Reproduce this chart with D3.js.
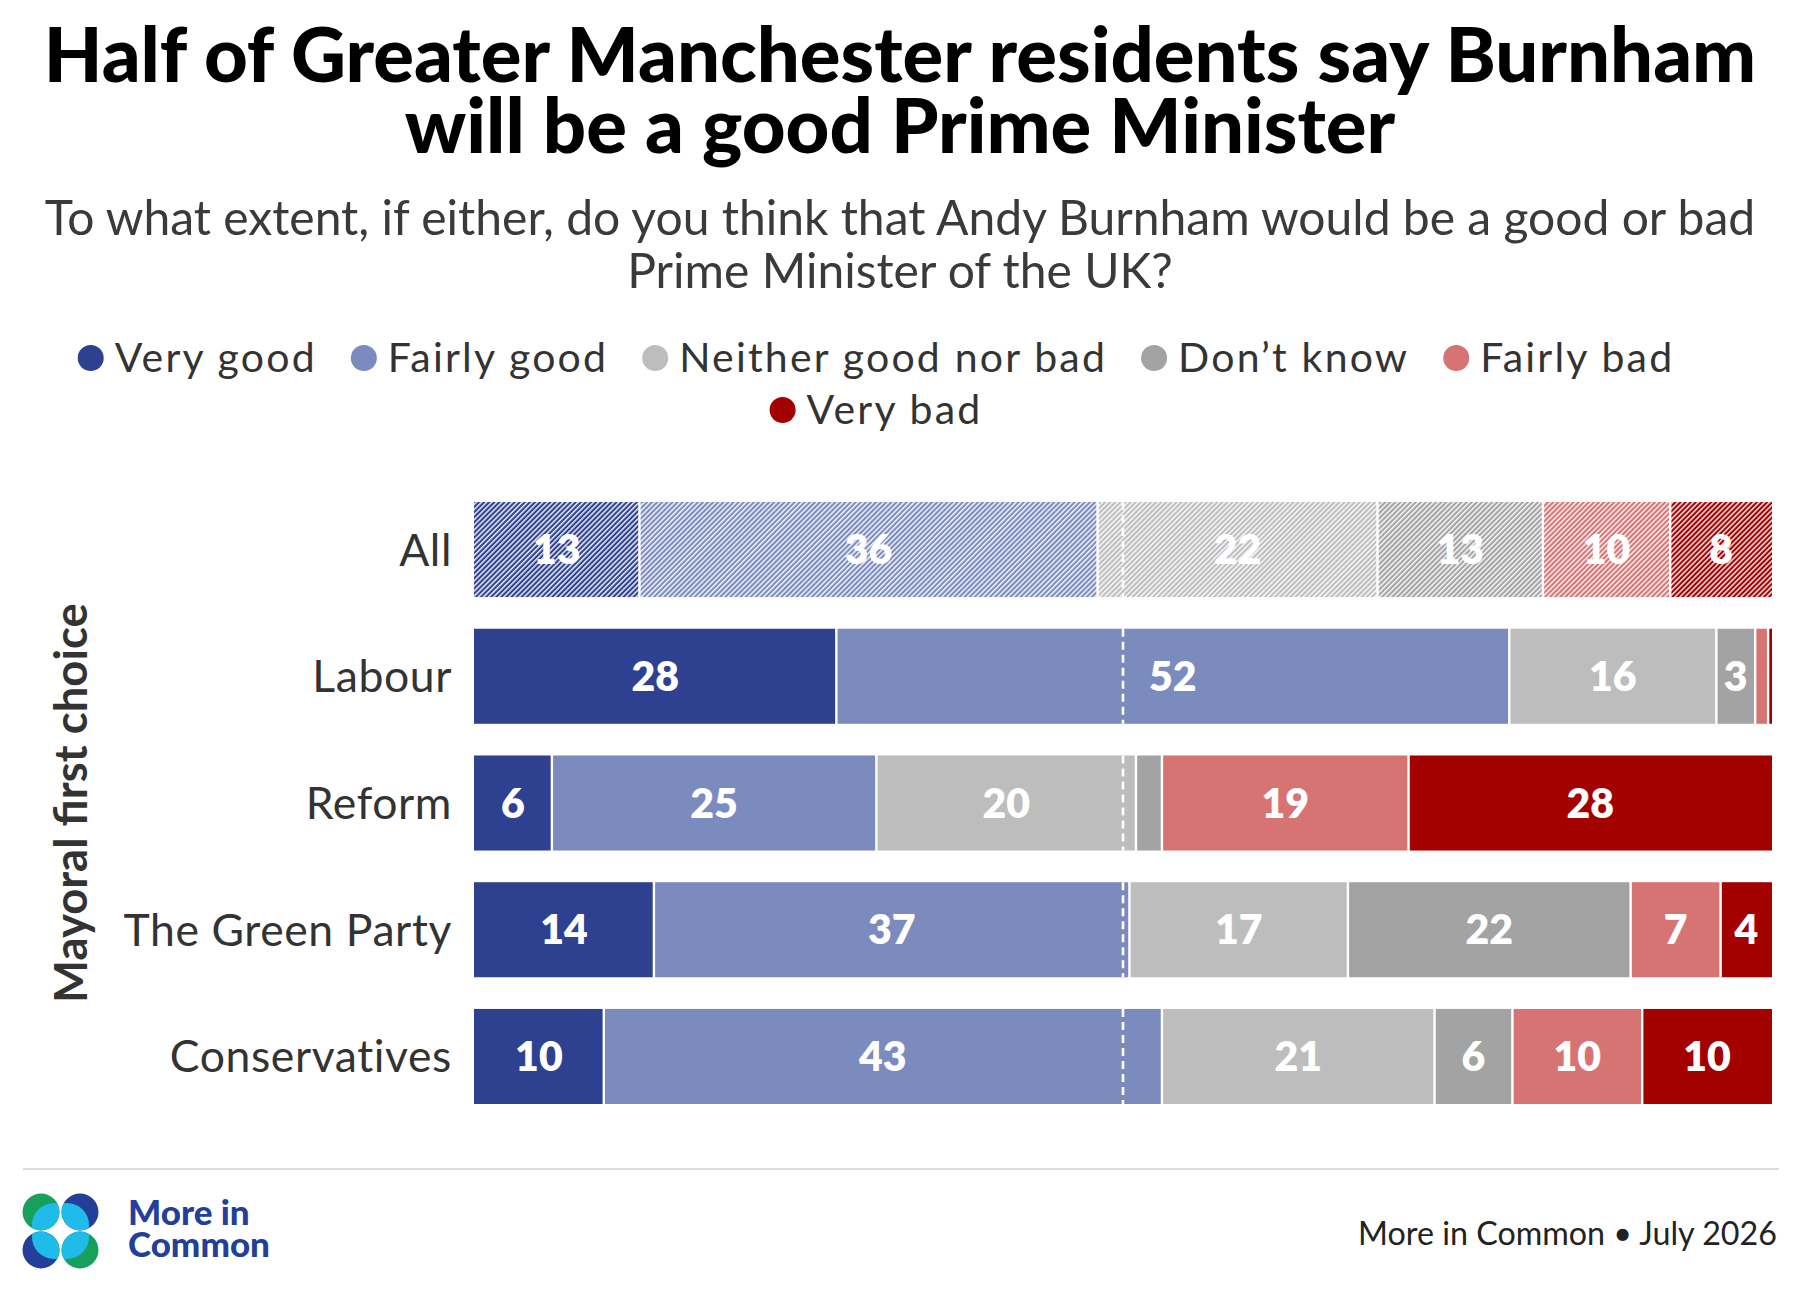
<!DOCTYPE html>
<html>
<head>
<meta charset="utf-8">
<script src="https://cdn.jsdelivr.net/npm/d3@7.9.0/dist/d3.min.js"></script>
<style>
  body { margin: 0; background: #fff; }
  svg { display: block; font-family: Lato, 'Noto Sans', sans-serif; }
</style>
</head>
<body>
<svg id="chart" width="1800" height="1300"></svg>
<script>
// answers, in stacking order
const categories = ['Very good', 'Fairly good', 'Neither good nor bad', 'Don\u2019t know', 'Fairly bad', 'Very bad'];
const colors = ['#2E4191', '#7B8BBE', '#BDBDBD', '#A3A3A3', '#D67474', '#A30000'];
const groups = ['All', 'Labour', 'Reform', 'The Green Party', 'Conservatives'];

// % per group (All, Labour, Reform, Green, Conservatives)
const veryGood = [13, 28, 6, 14, 10];
const fairlyGood = [36, 52, 25, 37, 43];
const neither = [22, 16, 20, 17, 21];
const dontKnow = [13, 3, 2, 22, 6];
const fairlyBad = [10, 1, 19, 7, 10];
const veryBad = [8, 0.3, 28, 4, 10];

const series = [veryGood, fairlyGood, neither, dontKnow, fairlyBad, veryBad];
const hatched = ['All'];

const svg = d3.select('#chart');

// one <text> with a tspan per line; font scaled so the widest line spans `target`
function multiline(parent, lines, opts) {
  const t = parent.append('text')
    .attr('text-anchor', opts.anchor || 'middle')
    .attr('font-size', opts.size)
    .attr('font-weight', opts.weight || 400)
    .attr('fill', opts.fill)
    .attr('y', opts.y);
  const spans = t.selectAll('tspan')
    .data(lines)
    .join('tspan')
    .attr('x', opts.x)
    .attr('y', (d, i) => opts.y + i * opts.lineH)
    .text(d => d);
  if (opts.target) {
    let maxW = 0;
    spans.each(function () { maxW = Math.max(maxW, this.getComputedTextLength()); });
    t.attr('font-size', opts.size * opts.target / maxW);
  }
  return t;
}

function fitLines(sel, target) {
  let maxW = 0;
  sel.each(function () { maxW = Math.max(maxW, this.getComputedTextLength()); });
  const fs = parseFloat(sel.attr('font-size'));
  sel.attr('font-size', fs * target / maxW);
}

// title + question
multiline(svg, ['Half of Greater Manchester residents say Burnham', 'will be a good Prime Minister'],
  { x: 900, y: 82, lineH: 71, size: 72, weight: 900, fill: '#000', target: 1713 });
multiline(svg, ['To what extent, if either, do you think that Andy Burnham would be a good or bad', 'Prime Minister of the UK?'],
  { x: 900, y: 235, lineH: 53, size: 44, fill: '#3a3a3a', target: 1711 });

// legend, wrapped and centred
const legend = svg.append('g');
const items = categories.map((c, i) => {
  const g = legend.append('g');
  g.append('circle').attr('r', 13).attr('cx', 13).attr('fill', colors[i]);
  const t = g.append('text').attr('x', 37).attr('dy', '0.35em')
    .attr('font-size', 41).attr('letter-spacing', 2.2).attr('fill', '#333').text(c);
  return { g, w: 37 + t.node().getComputedTextLength() };
});
const legendGap = 34, legendMax = 1700, legendCx = 876;
const rows = [[]];
let rowW = 0;
items.forEach(it => {
  const add = (rows[rows.length - 1].length ? legendGap : 0) + it.w;
  if (rowW + add > legendMax) { rows.push([it]); rowW = it.w; }
  else { rows[rows.length - 1].push(it); rowW += add; }
});
rows.forEach((row, r) => {
  const total = d3.sum(row, d => d.w) + legendGap * (row.length - 1);
  let x = legendCx - total / 2;
  row.forEach(it => {
    it.g.attr('transform', `translate(${x},${358 + r * 52})`);
    x += it.w + legendGap;
  });
});

// bars
const x = d3.scaleLinear().domain([0, 100]).range([474, 1772]);
const y = d3.scaleBand().domain(groups).range([502, 1104]).paddingInner(0.25);

const defs = svg.append('defs');
const hp = 3.6;
colors.forEach((c, i) => {
  const p = defs.append('pattern')
    .attr('id', 'hatch' + i)
    .attr('patternUnits', 'userSpaceOnUse')
    .attr('width', hp).attr('height', hp)
    .attr('patternTransform', 'rotate(45)');
  p.append('rect').attr('width', hp).attr('height', hp).attr('fill', c);
  p.append('rect').attr('width', 1.5).attr('height', hp).attr('fill', '#fff').attr('opacity', 0.9);
});

const stacked = groups.map((grp, gi) => {
  const vals = series.map(s => s[gi]);
  const total = d3.sum(vals);
  let acc = 0;
  return vals.map((v, ci) => {
    const start = acc / total * 100;
    acc += v;
    return { grp, ci, value: v, x0: start, x1: acc / total * 100 };
  });
});

const barG = svg.append('g');
const segs = barG.selectAll('g.row')
  .data(stacked)
  .join('g')
  .attr('class', 'row');

segs.selectAll('rect')
  .data(d => d)
  .join('rect')
  .attr('x', d => x(d.x0) + (d.ci > 0 ? 1.2 : 0))
  .attr('y', d => y(d.grp))
  .attr('width', d => Math.max(0, x(d.x1) - x(d.x0) - (d.ci > 0 ? 1.2 : 0) - (d.ci < 5 ? 1.2 : 0)))
  .attr('height', y.bandwidth())
  .attr('fill', d => hatched.includes(d.grp) ? `url(#hatch${d.ci})` : colors[d.ci]);

// 50% marker
barG.selectAll('line.mid')
  .data(groups)
  .join('line')
  .attr('class', 'mid')
  .attr('x1', x(50)).attr('x2', x(50))
  .attr('y1', d => y(d)).attr('y2', d => y(d) + y.bandwidth())
  .attr('stroke', '#fff')
  .attr('stroke-width', 2.6)
  .attr('stroke-dasharray', '8,5');

segs.selectAll('text')
  .data(d => d.filter(s => s.value >= 3))
  .join('text')
  .attr('x', d => x((d.x0 + d.x1) / 2))
  .attr('y', d => y(d.grp) + y.bandwidth() / 2)
  .attr('dy', '0.36em')
  .attr('text-anchor', 'middle')
  .attr('font-size', 41)
  .attr('font-weight', 800)
  .attr('fill', '#fff')
  .text(d => d.value);

// row labels
svg.append('g').selectAll('text')
  .data(groups)
  .join('text')
  .attr('x', 452)
  .attr('y', d => y(d) + y.bandwidth() / 2)
  .attr('dy', '0.36em')
  .attr('text-anchor', 'end')
  .attr('font-size', 44.5)
  .attr('letter-spacing', 0.6)
  .attr('fill', '#333')
  .text(d => d);

const yTitle = svg.append('text')
  .attr('transform', `translate(87,${(y.range()[0] + y.range()[1]) / 2}) rotate(-90)`)
  .attr('text-anchor', 'middle')
  .attr('font-size', 40)
  .attr('font-weight', 700)
  .attr('fill', '#333')
  .text('Mayoral first choice');
fitLines(yTitle, 400);

// footer
svg.append('line')
  .attr('x1', 23).attr('x2', 1779)
  .attr('y1', 1169).attr('y2', 1169)
  .attr('stroke', '#dcdcdc').attr('stroke-width', 2);

// logo: four discs, each with a light-blue lens towards the middle
const logo = svg.append('g');
const logoParts = [
  { cx: 41, cy: 1212, c: '#17A05B', dx: 1, dy: 1 },
  { cx: 80, cy: 1212, c: '#243F9A', dx: -1, dy: 1 },
  { cx: 41, cy: 1250, c: '#243F9A', dx: 1, dy: -1 },
  { cx: 80, cy: 1250, c: '#17A05B', dx: -1, dy: -1 }
];
logoParts.forEach((p, i) => {
  defs.append('clipPath').attr('id', 'lc' + i)
    .append('circle').attr('cx', p.cx).attr('cy', p.cy).attr('r', 18.5);
  logo.append('circle').attr('cx', p.cx).attr('cy', p.cy).attr('r', 18.5).attr('fill', p.c);
  logo.append('circle')
    .attr('clip-path', `url(#lc${i})`)
    .attr('cx', p.cx + p.dx * 13).attr('cy', p.cy + p.dy * 13).attr('r', 22)
    .attr('fill', '#1FBBE9');
});
multiline(logo, ['More in', 'Common'],
  { x: 128, y: 1225, lineH: 32, size: 30, weight: 900, fill: '#243F9A', anchor: 'start', target: 142 });

const source = svg.append('text')
  .attr('x', 1777).attr('y', 1245)
  .attr('text-anchor', 'end')
  .attr('font-size', 32)
  .attr('fill', '#222')
  .text('More in Common \u2022 July 2026');
fitLines(source, 419);
</script>
</body>
</html>
